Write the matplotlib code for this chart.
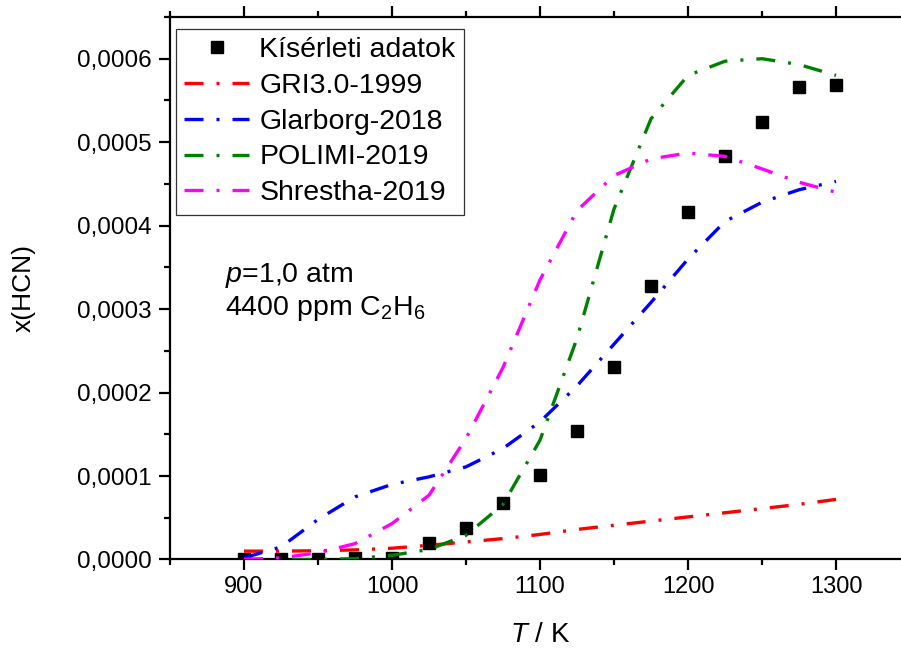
import matplotlib
matplotlib.use("Agg")
import matplotlib.pyplot as plt
from matplotlib.ticker import MultipleLocator, FuncFormatter

plt.rcParams['font.family'] = ['Liberation Sans', 'DejaVu Sans']
plt.rcParams['mathtext.fontset'] = 'custom'
plt.rcParams['mathtext.rm'] = 'Liberation Sans'
plt.rcParams['mathtext.it'] = 'Liberation Sans:italic'

# kiserleti adatok
T_exp = [900, 925, 950, 975, 1000, 1025, 1050, 1075, 1100, 1125, 1150,
         1175, 1200, 1225, 1250, 1275, 1300]
x_exp = [0.05e-5, 0.1e-5, 0.05e-5, 0.15e-5, 0.15e-5, 1.95e-5, 3.8e-5, 6.8e-5,
         10.1e-5, 15.4e-5, 23.1e-5, 32.8e-5, 41.6e-5, 48.3e-5, 52.4e-5,
         56.6e-5, 56.8e-5]

# modellek
T_mod = [900, 925, 950, 975, 1000, 1025, 1050, 1075, 1100, 1125, 1150,
         1175, 1200, 1225, 1250, 1275, 1300]
gri = [1.0e-5, 1.0e-5, 1.05e-5, 1.15e-5, 1.35e-5, 1.7e-5, 2.1e-5, 2.5e-5,
       3.0e-5, 3.6e-5, 4.1e-5, 4.6e-5, 5.1e-5, 5.6e-5, 6.1e-5, 6.6e-5, 7.2e-5]
glarborg = [0.2e-5, 1.5e-5, 4.8e-5, 7.5e-5, 9.0e-5, 9.9e-5, 11.1e-5, 13.3e-5,
            16.5e-5, 20.8e-5, 25.8e-5, 30.8e-5, 36.0e-5, 40.5e-5, 42.8e-5,
            44.3e-5, 45.3e-5]
polimi = [0.0, 0.0, 0.0, 0.1e-5, 0.5e-5, 1.2e-5, 2.9e-5, 6.6e-5, 14.3e-5,
          26.5e-5, 42.0e-5, 52.8e-5, 58.0e-5, 59.7e-5, 60.0e-5, 59.3e-5, 58.0e-5]
shrestha = [0.0, 0.2e-5, 0.8e-5, 1.9e-5, 4.3e-5, 7.7e-5, 14.5e-5, 23.0e-5,
            33.5e-5, 41.8e-5, 46.0e-5, 48.0e-5, 48.7e-5, 48.3e-5, 46.8e-5,
            45.2e-5, 44.0e-5]

dashdot = (0, (5.7, 3.9, 0.9, 3.9))
lw = 2.4

fig = plt.figure(figsize=(9.01, 6.48), dpi=100)
ax = fig.add_axes([0.1887, 0.1366, 0.8213, 0.8372])

ax.plot(T_exp, x_exp, 's', color='black', markersize=8, label='Kísérleti adatok', zorder=2)
ax.plot(T_mod, gri, color='red', lw=lw, ls=dashdot, label='GRI3.0-1999', zorder=3)
ax.plot(T_mod, glarborg, color='blue', lw=lw, ls=dashdot, label='Glarborg-2018', zorder=3)
ax.plot(T_mod, polimi, color='green', lw=lw, ls=dashdot, label='POLIMI-2019', zorder=3)
ax.plot(T_mod, shrestha, color='magenta', lw=lw, ls=dashdot, label='Shrestha-2019', zorder=3)

ax.set_xlim(850, 1350)
ax.set_ylim(0, 0.00065)
ax.xaxis.set_major_locator(MultipleLocator(100))
ax.xaxis.set_minor_locator(MultipleLocator(50))
ax.yaxis.set_major_locator(MultipleLocator(0.0001))
ax.yaxis.set_minor_locator(MultipleLocator(0.00005))
ax.yaxis.set_major_formatter(FuncFormatter(lambda v, p: f"{v:.4f}".replace('.', ',')))

ax.tick_params(which='both', direction='out', top=True, width=1.6)
ax.tick_params(which='major', length=8)
ax.tick_params(which='minor', length=4)
ax.tick_params(axis='x', labelsize=17, pad=4)
ax.tick_params(axis='y', labelsize=17.5, pad=5)
for s in ax.spines.values():
    s.set_linewidth(1.6)

ax.set_xlabel(r'$T$ / K', fontsize=20, labelpad=17)
ax.set_ylabel('x(HCN)', fontsize=19, labelpad=30)

ax.text(0.074, 0.5115, r'$p$=1,0 atm', transform=ax.transAxes, fontsize=20.5, va='baseline')
ax.text(0.074, 0.4507, r'4400 ppm C$_2$H$_6$', transform=ax.transAxes, fontsize=20.5, va='baseline')

leg = ax.legend(loc='upper left', bbox_to_anchor=(0.008, 0.978), borderaxespad=0,
                fontsize=20.5, frameon=True, fancybox=False, edgecolor='black',
                handlelength=2.28, labelspacing=0.34, handletextpad=0.35,
                borderpad=0.3, numpoints=1)
leg.get_frame().set_linewidth(0.9)

fig.savefig('out.png', dpi=100)
